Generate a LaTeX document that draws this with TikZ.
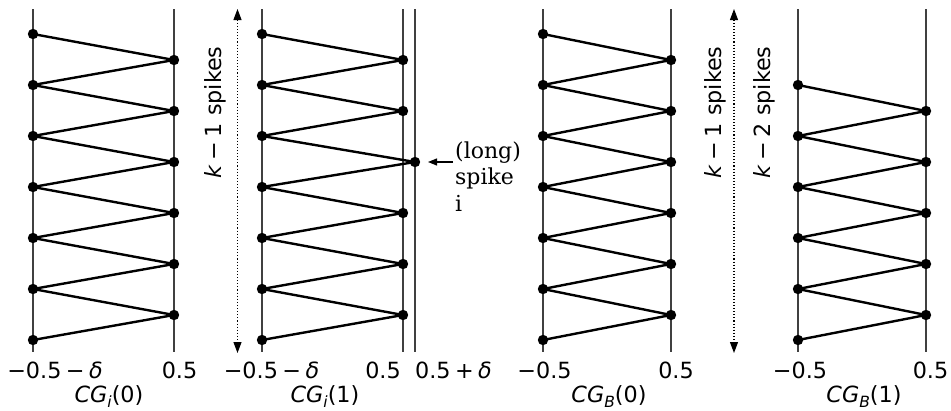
\documentclass[tikz,border=0pt]{standalone}
\usepackage{fontspec}
\setmainfont{DejaVu Sans}
\newfontfamily\annfont{DejaVu Serif}
\usetikzlibrary{arrows.meta}
\begin{document}
\begin{tikzpicture}[x=1pt,y=-1pt,
  vline/.style={draw=black!75,line width=1.3pt},
  zig/.style={draw=black,line width=2.4pt,line join=round},
  dotarrow/.style={draw=black,line width=1.1pt,dotted,{Triangle[length=11pt,width=8pt]}-{Triangle[length=11pt,width=8pt]}},
  ticklbl/.style={anchor=base,inner sep=0pt,font=\fontsize{22.3}{26}\selectfont},
  rotlbl/.style={anchor=base,inner sep=0pt,rotate=90,font=\fontsize{22.3}{26}\selectfont},
  annlbl/.style={anchor=base west,inner sep=0pt,font=\annfont\fontsize{22}{28}\selectfont}
]
\useasboundingbox (0,0) rectangle (951,410);

% ---------- coordinates ----------
\foreach \px/\pn/\xl/\xr in {1/a/33/174, 2/b/262/403, 3/c/543/671}{
  \foreach \k in {0,...,6} \coordinate (\pn l\k) at (\xl,{34+51*\k});
  \foreach \k in {0,...,5} \coordinate (\pn r\k) at (\xr,{60+51*\k});
  \coordinate (\pn lt) at (\xl,9); \coordinate (\pn lb) at (\xl,352);
  \coordinate (\pn rt) at (\xr,9); \coordinate (\pn rb) at (\xr,352);
}
% long spike in panel 2
\coordinate (br2) at (415,162);
\coordinate (bxt) at (415,9); \coordinate (bxb) at (415,352);
% panel 4
\foreach \k in {1,...,6} \coordinate (dl\k) at (798,{34+51*\k});
\foreach \k in {1,...,5} \coordinate (dr\k) at (926,{60+51*\k});
\coordinate (dlt) at (798,9); \coordinate (dlb) at (798,352);
\coordinate (drt) at (926,9); \coordinate (drb) at (926,352);

% ---------- vertical lines ----------
\foreach \pn in {a,b,c,d}{
  \draw[vline] (\pn lt) -- (\pn lb);
  \draw[vline] (\pn rt) -- (\pn rb);
}
\draw[vline] (bxt) -- (bxb);

% ---------- zigzags ----------
\foreach \pn in {a,b,c}{
  \draw[zig] (\pn l0)
    \foreach \k [evaluate=\k as \n using int(\k+1)] in {0,...,5}{ -- (\pn r\k) -- (\pn l\n) };
}
\draw[zig] (dl1)
  \foreach \k [evaluate=\k as \n using int(\k+1)] in {1,...,5}{ -- (dr\k) -- (dl\n) };

% ---------- dots ----------
\foreach \pn in {a,c}{
  \foreach \k in {0,...,6} \fill (\pn l\k) circle (5.2pt);
  \foreach \k in {0,...,5} \fill (\pn r\k) circle (5.2pt);
}
\foreach \k in {0,...,6} \fill (bl\k) circle (5.2pt);
\foreach \k in {0,1,3,4,5} \fill (br\k) circle (5.2pt);
\fill (br2) circle (5.2pt);
\foreach \k in {1,...,6} \fill (dl\k) circle (5.2pt);
\foreach \k in {1,...,5} \fill (dr\k) circle (5.2pt);

% ---------- dotted arrows ----------
\coordinate (arAt) at (237.5,9); \coordinate (arAb) at (237.5,353);
\coordinate (arBt) at (734,9); \coordinate (arBb) at (734,353);
\draw[dotarrow] (arAt) -- (arAb);
\draw[dotarrow] (arBt) -- (arBb);

\node[rotlbl] (kA) at (221,112.5) {{\itshape k}\hspace{0.22em}−\hspace{0.22em}1 spikes};
\node[rotlbl] (kB) at (721,112.5) {{\itshape k}\hspace{0.22em}−\hspace{0.22em}1 spikes};
\node[rotlbl] (kC) at (770,112.5) {{\itshape k}\hspace{0.22em}−\hspace{0.22em}2 spikes};

% ---------- long spike annotation ----------
\node[annlbl] (ann1) at (455,158) {(long)};
\node[annlbl] (ann2) at (455,184) {spike};
\node[annlbl] (ann3) at (455,211) {i};
\coordinate (anntail) at (453,162);
\coordinate (anntip) at (428,162);
\draw[line width=1.2pt,-{Triangle[length=9pt,width=7pt]}] (anntail) -- (anntip);

% ---------- tick labels ----------
\node[ticklbl] (t1a) at (55,378) {−0.5\hspace{0.2em}−\hspace{0.2em}{\itshape δ}};
\node[ticklbl] (t1b) at (179.5,378) {0.5};
\node[ticklbl] (t2a) at (271.5,378) {−0.5\hspace{0.2em}−\hspace{0.2em}{\itshape δ}};
\node[ticklbl] (t2b) at (383,378) {0.5};
\node[ticklbl] (t2c) at (453.5,378) {0.5\hspace{0.2em}+\hspace{0.2em}{\itshape δ}};
\node[ticklbl] (t3a) at (544.5,378) {−0.5};
\node[ticklbl] (t3b) at (676,378) {0.5};
\node[ticklbl] (t4a) at (800,378) {−0.5};
\node[ticklbl] (t4b) at (930.5,378) {0.5};

% ---------- panel labels ----------
\node[ticklbl] (cg1) at (109,402) {{\itshape CG}\raisebox{-0.25em}{\fontsize{15.5}{16}\selectfont\itshape i}(0)};
\node[ticklbl] (cg2) at (325,402) {{\itshape CG}\raisebox{-0.25em}{\fontsize{15.5}{16}\selectfont\itshape i}(1)};
\node[ticklbl] (cg3) at (609,402) {{\itshape CG}\raisebox{-0.25em}{\fontsize{15.5}{16}\selectfont\itshape B}(0)};
\node[ticklbl] (cg4) at (864,402) {{\itshape CG}\raisebox{-0.25em}{\fontsize{15.5}{16}\selectfont\itshape B}(1)};
\end{tikzpicture}
\end{document}
